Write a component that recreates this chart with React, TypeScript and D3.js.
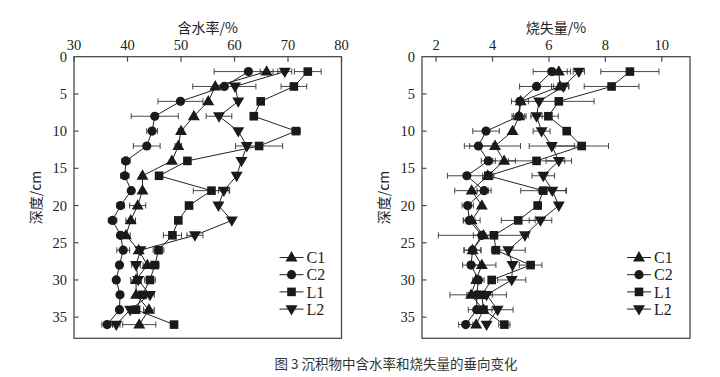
import React from "react";
import * as d3 from "d3";

const depths = [2, 4, 6, 8, 10, 12, 14, 16, 18, 20, 22, 24, 26, 28, 30, 32, 34, 36];
const seriesNames = ["C1", "C2", "L1", "L2"];

// 含水率 (%)
const wcC1 = [66.0, 56.4, 55.1, 52.4, 50.0, 49.5, 48.3, 42.8, 42.8, 41.9, 40.6, 39.7, 42.1, 43.7, 41.6, 41.6, 44.0, 42.2];
const wcC2 = [62.6, 58.1, 49.9, 45.1, 44.6, 43.6, 39.7, 39.5, 40.7, 38.7, 37.2, 38.7, 39.2, 38.5, 37.9, 38.6, 38.5, 36.2];
const wcL1 = [73.7, 71.1, 64.9, 63.6, 71.5, 64.6, 51.2, 45.9, 55.7, 51.5, 49.5, 48.4, 45.8, 45.1, 44.2, 42.8, 41.6, 48.7];
const wcL2 = [69.4, 60.1, 60.7, 57.1, 60.7, 62.3, 61.3, 60.4, 58.0, 57.0, 59.5, 52.6, 42.4, 41.6, 42.0, 44.2, 40.5, 37.9];
const wcErrC1 = [1.2, 0, 0, 0, 0.5, 0.6, 0, 0, 0, 1.5, 0.9, 0.8, 0, 0.8, 1.0, 0, 1.0, 3.1];
const wcErrC2 = [6.4, 5.9, 4.2, 4.4, 1.0, 2.5, 0.8, 0.8, 0, 0.7, 0.8, 0.6, 1.2, 0.5, 0, 0.5, 0, 1.0];
const wcErrL1 = [2.5, 2.4, 0, 0, 0.8, 4.4, 0, 0, 3.4, 0, 0, 1.7, 1.0, 0.8, 1.0, 0.8, 0, 0];
const wcErrL2 = [1.3, 0, 0, 2.4, 0, 0, 0, 0, 1.0, 0, 0, 1.5, 0, 0.8, 0, 0.8, 0, 0.7];

// 烧失量 (%)
const loiC1 = [6.35, 6.39, 5.0, 4.94, 4.71, 4.09, 4.41, 3.83, 3.26, 3.62, 3.26, 3.68, 3.29, 3.62, 3.42, 3.24, 3.68, 3.42];
const loiC2 = [6.10, 5.56, 4.97, 4.94, 3.77, 3.50, 3.85, 3.09, 3.70, 3.12, 3.18, 3.62, 3.29, 3.24, 3.50, 3.44, 3.44, 3.05];
const loiL1 = [8.87, 8.22, 6.35, 5.98, 6.63, 7.16, 5.56, 3.85, 5.80, 5.60, 4.91, 4.05, 4.12, 5.35, 3.97, 3.62, 3.68, 4.42];
const loiL2 = [7.06, 6.51, 5.65, 5.56, 5.74, 6.10, 6.35, 5.80, 6.12, 6.35, 5.70, 5.15, 4.56, 4.71, 4.68, 3.79, 4.18, 3.79];
const loiErrC1 = [0.3, 0.3, 0, 0.2, 0, 0.9, 0.4, 0, 0.6, 0, 0.3, 1.6, 0.3, 0.5, 0, 0.75, 0.3, 0];
const loiErrC2 = [0.66, 0.6, 0.3, 0.25, 0.47, 0.5, 0.25, 0.69, 0.25, 0.2, 0.2, 0.3, 0.3, 0.3, 0.2, 0.3, 0.3, 0.25];
const loiErrL1 = [1.03, 0.97, 1.25, 0.35, 0, 0.95, 1.0, 0.2, 0.8, 0, 0.6, 0, 0, 0.4, 0, 0, 0, 0.2];
const loiErrL2 = [0.2, 0.2, 0, 0.2, 0.3, 0.8, 0.45, 0.4, 0.5, 0, 0.4, 0, 0.6, 0, 0.5, 0.7, 0.55, 0];

const wcTicks = [30, 40, 50, 60, 70, 80];
const loiTicks = [2, 4, 6, 8, 10];
const depthTicks = [0, 5, 10, 15, 20, 25, 30, 35];

const serif = "'Liberation Serif', 'Times New Roman', serif";
const cjk = "'Noto Sans CJK SC', sans-serif";

type Series = { name: string; values: number[]; errs: number[] };

function Marker({ name, x, y }: { name: string; x: number; y: number }) {
  const fill = "#1a1a1a";
  if (name === "C2") return <circle cx={x} cy={y} r={4.6} fill={fill} />;
  if (name === "L1") return <rect x={x - 4.3} y={y - 4.3} width={8.6} height={8.6} fill={fill} />;
  if (name === "C1") {
    const p = d3.symbol(d3.symbolTriangle, 62)();
    return <path d={p!} transform={`translate(${x},${y + 0.5})`} fill={fill} />;
  }
  const p = d3.symbol(d3.symbolTriangle, 62)();
  return <path d={p!} transform={`translate(${x},${y - 0.5}) rotate(180)`} fill={fill} />;
}

function Panel({
  x0, x1, y0, y1, domain, ticks, title, series, legendX,
}: {
  x0: number; x1: number; y0: number; y1: number; domain: [number, number];
  ticks: number[]; title: string; series: Series[]; legendX: number;
}) {
  const x = d3.scaleLinear().domain(domain).range([x0, x1]);
  const y = d3.scaleLinear().domain([0, 37.84]).range([y0, y1]);
  const line = d3.line<[number, number]>().x((d) => x(d[0])).y((d) => y(d[1]));
  const frame = "#4a4a4a";
  return (
    <g>
      <rect x={x0} y={y0} width={x1 - x0} height={y1 - y0} fill="none" stroke={frame} strokeWidth={1.3} />
      {ticks.map((t) => (
        <g key={"xt" + t}>
          <line x1={x(t)} x2={x(t)} y1={y0} y2={y0 + 5} stroke={frame} strokeWidth={1.2} />
          <text x={x(t)} y={y0 - 7} textAnchor="middle" fontFamily={serif} fontSize={14.5} fill="#222">{t}</text>
        </g>
      ))}
      {depthTicks.map((t) => (
        <g key={"yt" + t}>
          {t > 0 && <line x1={x0} x2={x0 + 4.5} y1={y(t)} y2={y(t)} stroke={frame} strokeWidth={1.2} />}
          <text x={x0 - 7} y={y(t)} dy="0.35em" textAnchor="end" fontFamily={serif} fontSize={14.5} fill="#222">{t}</text>
        </g>
      ))}
      <text x={(x0 + x1) / 2} y={y0 - 24} textAnchor="middle" fontFamily={cjk} fontSize={14} fill="#222">{title}</text>
      <text transform={`translate(${x0 - 33},${(y0 + y1) / 2}) rotate(-90)`} textAnchor="middle" fontFamily={cjk} fontSize={14} fill="#222">深度/cm</text>
      {series.map((s) => (
        <g key={s.name}>
          <path d={line(s.values.map((v, i) => [v, depths[i]] as [number, number]))!} fill="none" stroke="#222" strokeWidth={1} />
          {s.values.map((v, i) =>
            s.errs[i] > 0 ? (
              <g key={i} stroke="#333" strokeWidth={0.9}>
                <line x1={x(v - s.errs[i])} x2={x(v + s.errs[i])} y1={y(depths[i])} y2={y(depths[i])} />
                <line x1={x(v - s.errs[i])} x2={x(v - s.errs[i])} y1={y(depths[i]) - 3} y2={y(depths[i]) + 3} />
                <line x1={x(v + s.errs[i])} x2={x(v + s.errs[i])} y1={y(depths[i]) - 3} y2={y(depths[i]) + 3} />
              </g>
            ) : null
          )}
        </g>
      ))}
      {series.map((s) => (
        <g key={"m" + s.name}>
          {s.values.map((v, i) => (
            <Marker key={i} name={s.name} x={x(v)} y={y(depths[i])} />
          ))}
        </g>
      ))}
      {seriesNames.map((n, i) => {
        const ly = 257.5 + i * 17.2;
        return (
          <g key={"lg" + n}>
            <line x1={legendX} x2={legendX + 24} y1={ly} y2={ly} stroke="#222" strokeWidth={1} />
            <Marker name={n} x={legendX + 12} y={ly} />
            <text x={legendX + 27} y={ly} dy="0.36em" fontFamily={serif} fontSize={16} fill="#222">{n}</text>
          </g>
        );
      })}
    </g>
  );
}

export default function App() {
  const wcSeries: Series[] = [
    { name: "C1", values: wcC1, errs: wcErrC1 },
    { name: "C2", values: wcC2, errs: wcErrC2 },
    { name: "L1", values: wcL1, errs: wcErrL1 },
    { name: "L2", values: wcL2, errs: wcErrL2 },
  ];
  const loiSeries: Series[] = [
    { name: "C1", values: loiC1, errs: loiErrC1 },
    { name: "C2", values: loiC2, errs: loiErrC2 },
    { name: "L1", values: loiL1, errs: loiErrL1 },
    { name: "L2", values: loiL2, errs: loiErrL2 },
  ];
  return (
    <svg width={720} height={377} style={{ position: "absolute", left: 0, top: 0, background: "#fff" }}>
      <rect width={720} height={377} fill="#fff" />
      <Panel x0={74} x1={341.5} y0={56.7} y1={338.3} domain={[30, 80]} ticks={wcTicks} title="含水率/%" series={wcSeries} legendX={279.5} />
      <Panel x0={422} x1={690} y0={56.7} y1={338.3} domain={[1.5, 11]} ticks={loiTicks} title="烧失量/%" series={loiSeries} legendX={627} />
      <text x={396} y={369} textAnchor="middle" fontFamily={cjk} fontSize={13.5} fill="#333">图 3 沉积物中含水率和烧失量的垂向变化</text>
    </svg>
  );
}
